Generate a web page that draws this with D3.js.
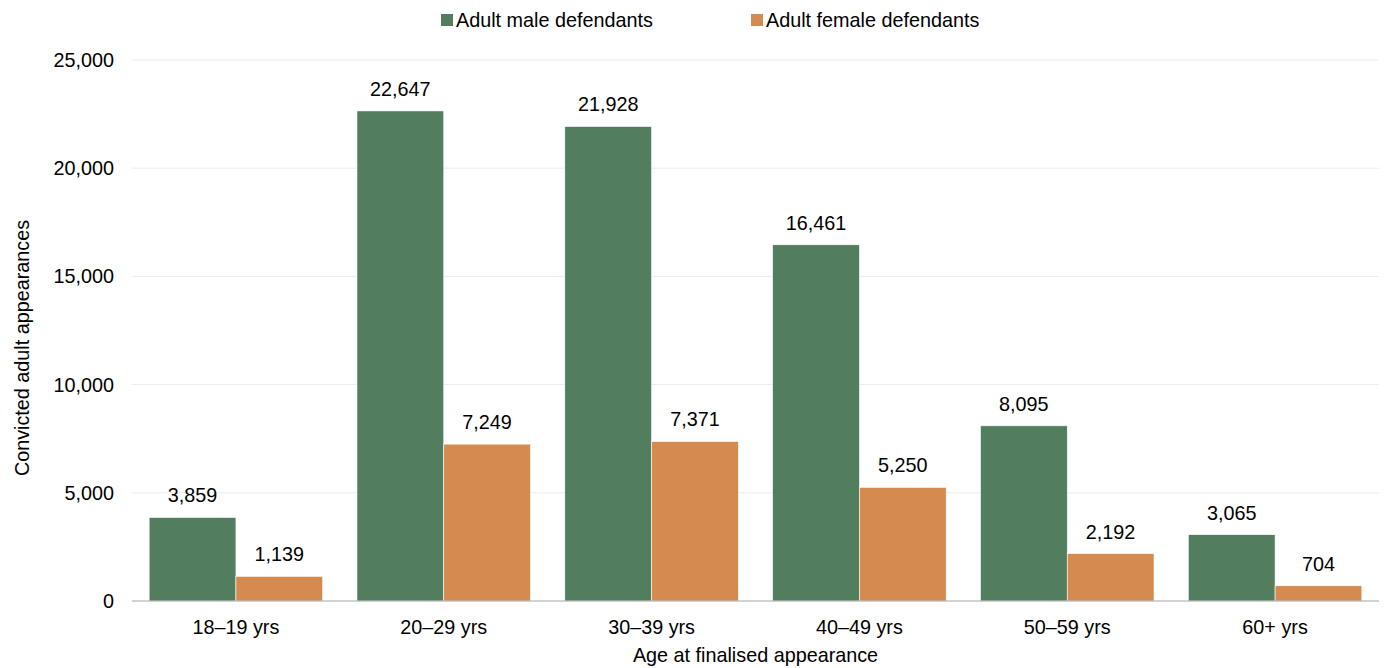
<!DOCTYPE html>
<meta charset="utf-8">
<style>
  body { margin: 0; background: #fff; }
  text { font-family: "Liberation Sans", Arial, sans-serif; fill: #000; }
</style>
<body>
<svg id="chart" width="1387" height="668"></svg>
<script src="https://d3js.org/d3.v7.min.js"></script>
<script>
const categories = ["18–19 yrs", "20–29 yrs", "30–39 yrs", "40–49 yrs", "50–59 yrs", "60+ yrs"];
const seriesNames = ["Adult male defendants", "Adult female defendants"];
const maleValues = [3859, 22647, 21928, 16461, 8095, 3065];
const femaleValues = [1139, 7249, 7371, 5250, 2192, 704];
const yTicks = [0, 5000, 10000, 15000, 20000, 25000];
const colors = ["#527d5f", "#d58b4f"];

const width = 1387, height = 668;
const margin = {top: 60, right: 8, bottom: 67, left: 132};
const fontSize = "19.8px";
const svg = d3.select("#chart");

const x0 = d3.scaleBand()
    .domain(categories)
    .range([margin.left, width - margin.right])
    .paddingInner(0.165)
    .paddingOuter(0.0825);
const x1 = d3.scaleBand()
    .domain(seriesNames)
    .range([0, x0.bandwidth()]);
const y = d3.scaleLinear()
    .domain([0, 25000])
    .range([height - margin.bottom, margin.top]);

// gridlines
svg.append("g")
    .selectAll("line")
    .data(yTicks.slice(1))
    .join("line")
    .attr("x1", margin.left)
    .attr("x2", width - margin.right)
    .attr("y1", d => y(d))
    .attr("y2", d => y(d))
    .attr("stroke", "#ececec")
    .attr("stroke-width", 1);

// y tick labels
svg.append("g")
    .selectAll("text")
    .data(yTicks)
    .join("text")
    .attr("x", margin.left - 18)
    .attr("y", d => y(d))
    .attr("dy", "0.35em")
    .attr("text-anchor", "end")
    .style("font-size", fontSize)
    .text(d => d3.format(",")(d));

const rows = categories.map((c, i) => ({cat: c, vals: [maleValues[i], femaleValues[i]]}));

const groups = svg.append("g")
    .selectAll("g")
    .data(rows)
    .join("g")
    .attr("transform", d => `translate(${x0(d.cat)},0)`);

groups.selectAll("rect")
    .data(d => d.vals.map((v, j) => ({name: seriesNames[j], v, j})))
    .join("rect")
    .attr("x", d => x1(d.name))
    .attr("width", x1.bandwidth())
    .attr("y", d => y(d.v))
    .attr("height", d => y(0) - y(d.v))
    .attr("fill", d => colors[d.j])
    .attr("stroke", "#fff")
    .attr("stroke-width", 0.6);

groups.selectAll("text.val")
    .data(d => d.vals.map((v, j) => ({name: seriesNames[j], v, j})))
    .join("text")
    .attr("class", "val")
    .attr("x", d => x1(d.name) + x1.bandwidth() / 2)
    .attr("y", d => y(d.v) - 15)
    .attr("text-anchor", "middle")
    .style("font-size", fontSize)
    .text(d => d3.format(",")(d.v));

// baseline
svg.append("line")
    .attr("x1", margin.left)
    .attr("x2", width - margin.right)
    .attr("y1", y(0))
    .attr("y2", y(0))
    .attr("stroke", "#a6a6a6")
    .attr("stroke-width", 1);

// category labels
svg.append("g")
    .selectAll("text")
    .data(categories)
    .join("text")
    .attr("x", d => x0(d) + x0.bandwidth() / 2)
    .attr("y", y(0) + 33)
    .attr("text-anchor", "middle")
    .style("font-size", fontSize)
    .text(d => d);

// axis titles
svg.append("text")
    .attr("x", (margin.left + width - margin.right) / 2)
    .attr("y", 662)
    .attr("text-anchor", "middle")
    .style("font-size", fontSize)
    .text("Age at finalised appearance");

svg.append("text")
    .attr("transform", "translate(29,348) rotate(-90)")
    .attr("text-anchor", "middle")
    .style("font-size", fontSize)
    .text("Convicted adult appearances");

// legend
const legendX = [441, 751];
const legend = svg.append("g")
    .selectAll("g")
    .data(seriesNames)
    .join("g")
    .attr("transform", (d, i) => `translate(${legendX[i]},20)`);
legend.append("rect")
    .attr("x", 0)
    .attr("y", -6)
    .attr("width", 12)
    .attr("height", 12)
    .attr("fill", (d, i) => colors[i]);
legend.append("text")
    .attr("x", 15)
    .attr("dy", "0.35em")
    .style("font-size", fontSize)
    .text(d => d);
</script>
</body>
